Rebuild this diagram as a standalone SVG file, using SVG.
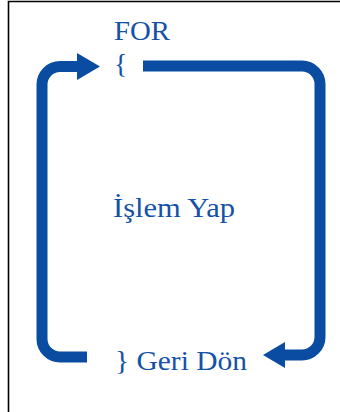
<svg xmlns="http://www.w3.org/2000/svg" width="340" height="412" viewBox="0 0 340 412">
<style>
.lbl{font-family:"Liberation Serif","Times New Roman",serif;font-size:28px;fill:#1552a6}
.loop{fill:none;stroke:#0a4ca2;stroke-width:11}
.head{fill:#0a4ca2}
</style>
<rect width="340" height="412" fill="#ffffff"/>
<path d="M8.5 412 V1.5 H340" fill="none" stroke="#000" stroke-width="1.6"/>
<g id="connectors">
<path class="loop" d="M87 357 H60 A18 18 0 0 1 42 339 V84.5 A18 18 0 0 1 60 66.5 H79"/>
<polygon class="head" points="77,53 100,66.5 77,80"/>
<path class="loop" d="M143 66 H302 A18 18 0 0 1 320 84 V337 A18 18 0 0 1 302 355 H283"/>
<polygon class="head" points="285,342 263,355 285,368"/>
</g>
<g id="for"><text class="lbl" x="114" y="40" textLength="56" lengthAdjust="spacingAndGlyphs">FOR</text></g>
<g id="open"><text class="lbl" x="114" y="73">{</text></g>
<g id="islem"><text class="lbl" x="113" y="217" textLength="122" lengthAdjust="spacingAndGlyphs">İşlem Yap</text></g>
<g id="geri"><text class="lbl" x="115" y="370" textLength="132" lengthAdjust="spacingAndGlyphs">} Geri Dön</text></g>
</svg>
